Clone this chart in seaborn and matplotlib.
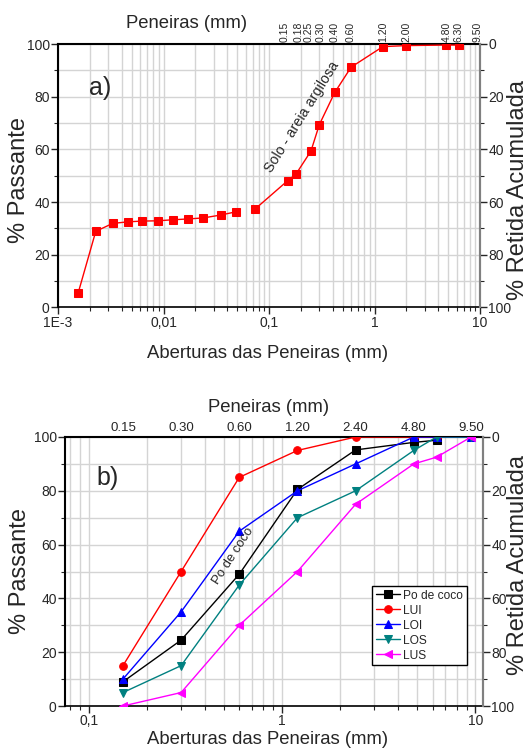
import matplotlib
matplotlib.use("Agg")
import matplotlib.pyplot as plt
import matplotlib.font_manager as fm
from matplotlib.ticker import FixedLocator, FixedFormatter, MultipleLocator, LogLocator, NullFormatter
from matplotlib.transforms import blended_transform_factory, ScaledTranslation
import seaborn as sns
import numpy as np

# ---------------- data ----------------
# panel a: soil grading curve (hydrometer part + sieve part)
hyd_x = [0.00155, 0.00228, 0.00329, 0.00457, 0.0063, 0.0088, 0.0123, 0.0171, 0.0239, 0.0349, 0.0485]
hyd_y = [5.4, 28.9, 31.9, 32.5, 32.8, 32.9, 33.3, 33.6, 34.0, 35.1, 36.3]
sieve_x = [0.0735, 0.15, 0.18, 0.25, 0.30, 0.42, 0.60, 1.20, 2.00, 4.80, 6.30]
sieve_y = [37.3, 48.1, 50.6, 59.4, 69.4, 81.6, 91.2, 99.0, 99.4, 99.6, 99.6]
top_ticks_a = [0.15, 0.18, 0.25, 0.30, 0.42, 0.60, 1.20, 2.00, 4.80, 6.30, 9.50]
top_labels_a = ["0.15", "0.18", "0.25", "0.30", "0.40", "0.60", "1.20", "2.00", "4.80", "6.30", "9.50"]
bottom_ticks_a = [0.001, 0.01, 0.1, 1, 10]
bottom_labels_a = ["1E-3", "0,01", "0,1", "1", "10"]

# panel b: coconut powder and limits
sieves_b = [0.15, 0.30, 0.60, 1.20, 2.40, 4.80, 6.30, 9.50]
po_coco = [9.0, 24.5, 49.0, 80.5, 95.2, 98.0, 98.8]
lui = [15, 50, 85, 95, 100, 100, 100, 100]
loi = [10, 35, 65, 80, 90, 100, 100, 100]
los = [5, 15, 45, 70, 80, 95, 100, 100]
lus = [0, 5, 30, 50, 75, 90, 92.5, 100]
series_names = ["Po de coco", "LUI", "LOI", "LOS", "LUS"]
top_ticks_b = [0.15, 0.30, 0.60, 1.20, 2.40, 4.80, 9.50]
top_labels_b = ["0.15", "0.30", "0.60", "1.20", "2.40", "4.80", "9.50"]
bottom_ticks_b = [0.1, 1, 10]
bottom_labels_b = ["0,1", "1", "10"]
right_ticks = [0, 20, 40, 60, 80, 100]

# ---------------- style ----------------
sns.set_style("ticks")
names = {f.name for f in fm.fontManager.ttflist}
if "Liberation Sans Narrow" in names:
    FH = ["Liberation Sans Narrow", "DejaVu Sans"]
    k = 1.0
else:
    FH = ["Liberation Sans", "DejaVu Sans"]
    k = 0.82
FV = ["Liberation Sans", "DejaVu Sans"]
plt.rcParams["font.family"] = FH

TICK = 10.0
TOPA = 7.5
TOPB = 9.5
LAB = 16.3 * k
VLAB = 17
GRID = "#d4d4d4"

W, H = 530, 751
fig = plt.figure(figsize=(W / 100, H / 100), dpi=100)


def px_axes(l, r, t, b):
    return fig.add_axes([l / W, 1 - b / H, (r - l) / W, (b - t) / H])


def style_axes(ax, xlim, bticks, blabels):
    ax.set_xscale("log")
    ax.set_xlim(*xlim)
    ax.set_ylim(0, 100)
    ax.xaxis.set_major_locator(FixedLocator(bticks))
    ax.xaxis.set_major_formatter(FixedFormatter(blabels))
    ax.xaxis.set_minor_locator(LogLocator(base=10, subs=np.arange(2, 10), numticks=20))
    ax.xaxis.set_minor_formatter(NullFormatter())
    ax.yaxis.set_major_locator(MultipleLocator(20))
    ax.yaxis.set_minor_locator(MultipleLocator(10))
    ax.grid(True, which="both", color=GRID, lw=1.0, zorder=0)
    ax.set_axisbelow(True)
    for s in ["left", "top"]:
        ax.spines[s].set_linewidth(1.5)
        ax.spines[s].set_color("black")
    ax.spines["bottom"].set_linewidth(1.2)
    ax.spines["bottom"].set_color("black")
    ax.spines["right"].set_color("#808080")
    ax.spines["right"].set_linewidth(1.5)
    ax.tick_params(which="major", direction="out", length=5, width=1, labelsize=TICK, pad=1)
    ax.tick_params(which="minor", direction="out", length=3, width=0.8)
    ax.set_xlabel("")
    ax.set_ylabel("")
    axr = ax.twinx()
    axr.set_ylim(100, 0)
    axr.yaxis.set_major_locator(FixedLocator(right_ticks))
    axr.yaxis.set_minor_locator(MultipleLocator(10))
    axr.tick_params(which="major", direction="out", length=5, width=1, labelsize=TICK, pad=1)
    axr.tick_params(which="minor", direction="out", length=3, width=0.8)
    for s in ["left", "top", "bottom"]:
        axr.spines[s].set_visible(False)
    axr.spines["right"].set_color("#808080")
    axr.spines["right"].set_linewidth(1.5)
    return axr


# ---------------- panel a ----------------
ax1 = px_axes(58, 480, 44, 307.5)
sns.lineplot(x=hyd_x, y=hyd_y, ax=ax1, color="red", marker="s", markersize=6,
             markeredgecolor="red", lw=1, zorder=3)
sns.lineplot(x=sieve_x, y=sieve_y, ax=ax1, color="red", marker="s", markersize=6,
             markeredgecolor="red", lw=1, zorder=3)
style_axes(ax1, (0.001, 10), bottom_ticks_a, bottom_labels_a)

# top sieve labels (rotated); the crowded ones are spread slightly apart
spread_a = [-2.5, 2.5, -2.0, 1.5, 0, 0, 0, 0, 0, 0, 0]
base_tr = blended_transform_factory(ax1.transData, ax1.transAxes)
for v, lab, dx in zip(top_ticks_a, top_labels_a, spread_a):
    ax1.text(v, 1, lab, rotation=90, fontsize=TOPA, ha="center", va="bottom",
             transform=base_tr + ScaledTranslation(dx / 100, 2 / 100, fig.dpi_scale_trans),
             clip_on=False)

fig.text(100 / W, 1 - 88 / H, "a)", fontsize=18, ha="center", va="center")
fig.text(302 / W, 1 - 117 / H, "Solo - areia argilosa", fontsize=12.5 * k,
         rotation=58, ha="center", va="center", rotation_mode="anchor")

fig.text(187 / W, 1 - 24 / H, "Peneiras (mm)", fontsize=LAB, ha="center", va="center")
fig.text(268 / W, 1 - 354 / H, "Aberturas das Peneiras (mm)", fontsize=LAB,
         ha="center", va="center")
fig.text(19 / W, 1 - 180 / H, "% Passante", fontsize=VLAB, family=FV, rotation=90,
         ha="center", va="center")
fig.text(518 / W, 1 - 190 / H, "% Retida Acumulada", fontsize=VLAB, family=FV,
         rotation=90, ha="center", va="center")

# ---------------- panel b ----------------
ax2 = px_axes(65, 483, 437, 706)
colors = ["black", "red", "blue", "#008080", "#ff00ff"]
markers = ["s", "o", "^", "v", "<"]
values = [po_coco, lui, loi, los, lus]
for name, vals, c, m in zip(series_names, values, colors, markers):
    sns.lineplot(x=sieves_b[:len(vals)], y=vals, ax=ax2, color=c, marker=m,
                 markersize=5.5, markeredgecolor=c, lw=1, zorder=3, label=name)
style_axes(ax2, (0.0752, 10.95), bottom_ticks_b, bottom_labels_b)
top2 = ax2.secondary_xaxis("top")
top2.set_xticks(top_ticks_b)
top2.set_xticklabels(top_labels_b, fontsize=TOPB)
top2.xaxis.set_minor_locator(FixedLocator([]))
top2.tick_params(length=0, pad=2)
top2.spines["top"].set_visible(False)

leg = ax2.legend(loc="upper left", bbox_to_anchor=((372 - 65) / 418, (706 - 586) / 269),
                 fontsize=10.5 * k, frameon=True, fancybox=False, edgecolor="black",
                 framealpha=1, handlelength=2.0, handletextpad=0.3, borderpad=0.3,
                 labelspacing=0.25, borderaxespad=0)
leg.get_frame().set_linewidth(1.0)
leg.set_zorder(10)

fig.text(108 / W, 1 - 478 / H, "b)", fontsize=18, ha="center", va="center")
fig.text(233 / W, 1 - 556 / H, "Po de coco", fontsize=11.5 * k, rotation=57,
         ha="center", va="center", rotation_mode="anchor")
fig.text(269 / W, 1 - 407 / H, "Peneiras (mm)", fontsize=LAB, ha="center", va="center")
fig.text(268 / W, 1 - 740 / H, "Aberturas das Peneiras (mm)", fontsize=LAB,
         ha="center", va="center")
fig.text(20 / W, 1 - 571 / H, "% Passante", fontsize=VLAB, family=FV, rotation=90,
         ha="center", va="center")
fig.text(518 / W, 1 - 565 / H, "% Retida Acumulada", fontsize=VLAB, family=FV,
         rotation=90, ha="center", va="center")

fig.savefig("out.png", dpi=100)
